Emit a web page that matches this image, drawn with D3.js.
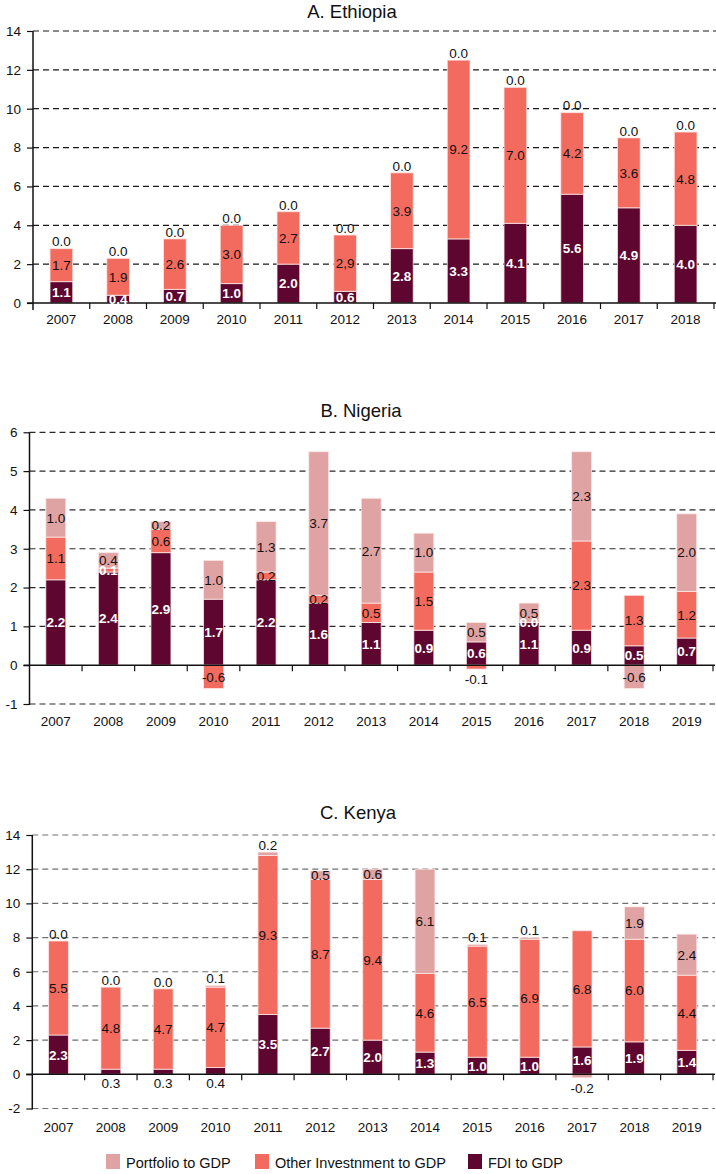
<!DOCTYPE html>
<html>
<head>
<meta charset="utf-8">
<script src="https://cdn.jsdelivr.net/npm/d3@7"></script>
<style>
  html, body { margin: 0; padding: 0; background: #fff; }
  svg { display: block; font-family: "Liberation Sans", Arial, sans-serif; }
</style>
</head>
<body>
<script>
// ---------------- DATA ----------------
const yearsEthiopia = ["2007","2008","2009","2010","2011","2012","2013","2014","2015","2016","2017","2018"];
const yearsNigeriaKenya = ["2007","2008","2009","2010","2011","2012","2013","2014","2015","2016","2017","2018","2019"];

const ethiopiaFDI       = [1.1, 0.4, 0.7, 1.0, 2.0, 0.6, 2.8, 3.3, 4.1, 5.6, 4.9, 4.0];
const ethiopiaOther     = [1.7, 1.9, 2.6, 3.0, 2.7, 2.9, 3.9, 9.2, 7.0, 4.2, 3.6, 4.8];
const ethiopiaPortfolio = [0.0, 0.0, 0.0, 0.0, 0.0, 0.0, 0.0, 0.0, 0.0, 0.0, 0.0, 0.0];

const nigeriaFDI       = [2.2, 2.4, 2.9, 1.7, 2.2, 1.6, 1.1, 0.9, 0.6, 1.1, 0.9, 0.5, 0.7];
const nigeriaOther     = [1.1, 0.1, 0.6, -0.6, 0.2, 0.2, 0.5, 1.5, -0.1, 0.0, 2.3, 1.3, 1.2];
const nigeriaPortfolio = [1.0, 0.4, 0.2, 1.0, 1.3, 3.7, 2.7, 1.0, 0.5, 0.5, 2.3, -0.6, 2.0];

const kenyaFDI       = [2.3, 0.3, 0.3, 0.4, 3.5, 2.7, 2.0, 1.3, 1.0, 1.0, 1.6, 1.9, 1.4];
const kenyaOther     = [5.5, 4.8, 4.7, 4.7, 9.3, 8.7, 9.4, 4.6, 6.5, 6.9, 6.8, 6.0, 4.4];
const kenyaPortfolio = [0.0, 0.0, 0.0, 0.1, 0.2, 0.5, 0.6, 6.1, 0.1, 0.1, -0.2, 1.9, 2.4];

const ethiopiaTicks = [0, 2, 4, 6, 8, 10, 12, 14];
const nigeriaTicks  = [-1, 0, 1, 2, 3, 4, 5, 6];
const kenyaTicks    = [-2, 0, 2, 4, 6, 8, 10, 12, 14];

const panelTitles = ["A. Ethiopia", "B. Nigeria", "C. Kenya"];
const seriesKeys  = ["fdi", "other", "port"];
const legendNames = ["Portfolio to GDP", "Other Investnment to GDP", "FDI to GDP"];
const labelOverrides = { "A. Ethiopia|2012|other": "2,9" };

// ---------------- STYLE ----------------
const colors = { port: "#E0A3A3", other: "#F26B5E", fdi: "#5E062F" };
const loc = d3.formatLocale({ decimal: ".", thousands: ",", grouping: [3], currency: ["", ""], minus: "-" });
const fmt1 = loc.format(".1f");
const fmtInt = loc.format("d");

const svg = d3.select("body").append("svg").attr("width", 716).attr("height", 1174);

function drawPanel(cfg) {
  const g = svg.append("g");
  const x = d3.scaleBand().domain(cfg.years).range([cfg.x0, cfg.x1])
    .paddingInner(cfg.inner).paddingOuter(cfg.inner / 2);
  const y = d3.scaleLinear().domain(cfg.domain).range([cfg.yBottom, cfg.yTop]);
  const step = x.step();
  const bw = x.bandwidth();

  // title
  g.append("text").attr("x", cfg.titleX).attr("y", cfg.titleY)
    .attr("text-anchor", "middle").attr("font-size", 18.5).attr("fill", "#111")
    .text(cfg.title);

  // gridlines (dashed) for non-zero ticks
  g.append("g").selectAll("line").data(cfg.ticks.filter(t => t !== 0)).join("line")
    .attr("x1", cfg.x0).attr("x2", cfg.x1 + 2)
    .attr("y1", d => y(d)).attr("y2", d => y(d))
    .attr("stroke", cfg.grid).attr("stroke-width", 1.2).attr("stroke-dasharray", "6,4");

  // y axis ticks and labels
  const yAxis = d3.axisLeft(y).tickValues(cfg.ticks).tickFormat(fmtInt)
    .tickSize(6).tickSizeOuter(0).tickPadding(6);
  const ya = g.append("g").attr("transform", `translate(${cfg.x0},0)`).call(yAxis);
  ya.select(".domain").remove();
  ya.selectAll(".tick line").attr("stroke", "#111").attr("stroke-width", 1.2);
  ya.selectAll(".tick text").attr("font-size", 13.5).attr("fill", "#111")
    .attr("font-family", "Liberation Sans, Arial, sans-serif");

  // bars
  const data = cfg.years.map((yr, i) => ({ year: yr, fdi: cfg.fdi[i], other: cfg.other[i], port: cfg.port[i] }));
  const segs = [];
  data.forEach(d => {
    let pos = 0, neg = 0;
    seriesKeys.forEach((k, ki) => {
      const v = d[k];
      let a, b;
      if (v >= 0) { a = pos; b = pos + v; pos = b; }
      else { a = neg; b = neg + v; neg = b; }
      segs.push({ year: d.year, key: k, ki, v, lo: Math.min(a, b), hi: Math.max(a, b) });
    });
  });

  g.append("g").selectAll("rect").data(segs).join("rect")
    .attr("x", d => x(d.year))
    .attr("width", bw)
    .attr("y", d => y(d.hi))
    .attr("height", d => y(d.lo) - y(d.hi))
    .attr("fill", d => colors[d.key])
    .attr("stroke", "rgba(255,235,235,0.75)")
    .attr("stroke-width", 1);

  // x axis line at zero
  const y0 = y(0);
  g.append("line").attr("x1", cfg.x0 - 6).attr("x2", cfg.x1 + 2)
    .attr("y1", y0).attr("y2", y0).attr("stroke", "#111").attr("stroke-width", 1.5);
  // category boundary ticks
  g.append("g").selectAll("line").data(d3.range(1, cfg.years.length + 1)).join("line")
    .attr("x1", k => cfg.x0 + k * step).attr("x2", k => cfg.x0 + k * step)
    .attr("y1", y0).attr("y2", y0 + 6)
    .attr("stroke", "#111").attr("stroke-width", 1.2);
  // y axis vertical line
  g.append("line").attr("x1", cfg.x0).attr("x2", cfg.x0)
    .attr("y1", cfg.yTop).attr("y2", Math.max(cfg.yBottom, y0 + 6) + 1)
    .attr("stroke", "#111").attr("stroke-width", 1.5);

  // x labels
  g.append("g").selectAll("text").data(cfg.years).join("text")
    .attr("x", d => x(d) + bw / 2).attr("y", cfg.labelY)
    .attr("text-anchor", "middle").attr("font-size", 13.5).attr("fill", "#111")
    .text(d => d);

  // data labels
  const lab = segs.map(s => {
    const h = y(s.lo) - y(s.hi);
    let ly, white = false;
    if (s.v < 0) {
      ly = h < 7 ? y(s.lo) + 10 : (y(s.lo) + y(s.hi)) / 2;
    } else if (s.ki === 0) {
      if (h < 7) { ly = y0 + 9; } else { ly = (y(s.lo) + y(s.hi)) / 2; white = true; }
    } else if (s.ki === 1) {
      ly = (y(s.lo) + y(s.hi)) / 2; white = h < 6;
    } else {
      ly = h < 7 ? y(s.hi) - 7 : (y(s.lo) + y(s.hi)) / 2;
    }
    const txt = labelOverrides[cfg.title + "|" + s.year + "|" + s.key] || fmt1(s.v);
    return { x: x(s.year) + bw / 2, y: ly, white, txt };
  });
  g.append("g").selectAll("text").data(lab).join("text")
    .attr("x", d => d.x).attr("y", d => d.y)
    .attr("dy", "0.36em")
    .attr("text-anchor", "middle").attr("font-size", 13.5)
    .attr("font-weight", d => d.white ? "bold" : "normal")
    .attr("fill", d => d.white ? "#fff" : "#111")
    .text(d => d.txt);
}

drawPanel({
  title: panelTitles[0], titleX: 352, titleY: 17.5,
  years: yearsEthiopia, fdi: ethiopiaFDI, other: ethiopiaOther, port: ethiopiaPortfolio,
  ticks: ethiopiaTicks, domain: [0, 14], yBottom: 303, yTop: 31,
  x0: 33, x1: 714, inner: 0.6, labelY: 324, grid: "#1a1a1a"
});
drawPanel({
  title: panelTitles[1], titleX: 361, titleY: 416.5,
  years: yearsNigeriaKenya, fdi: nigeriaFDI, other: nigeriaOther, port: nigeriaPortfolio,
  ticks: nigeriaTicks, domain: [-1, 6], yBottom: 704, yTop: 432.3,
  x0: 29.5, x1: 713, inner: 0.62, labelY: 726, grid: "#2a2a2a"
});
drawPanel({
  title: panelTitles[2], titleX: 358, titleY: 819,
  years: yearsNigeriaKenya, fdi: kenyaFDI, other: kenyaOther, port: kenyaPortfolio,
  ticks: kenyaTicks, domain: [-2, 14], yBottom: 1108.5, yTop: 835,
  x0: 32.3, x1: 713, inner: 0.62, labelY: 1132, grid: "#707070"
});

// legend
const legendKeys = ["port", "other", "fdi"];
const legendX = [106, 255, 468];
const lg = svg.append("g");
legendKeys.forEach((k, i) => {
  lg.append("rect").attr("x", legendX[i]).attr("y", 1154).attr("width", 14).attr("height", 15)
    .attr("fill", colors[k]);
  lg.append("text").attr("x", legendX[i] + 20).attr("y", 1168)
    .attr("font-size", 14.5).attr("fill", "#111").text(legendNames[i]);
});
</script>
</body>
</html>
